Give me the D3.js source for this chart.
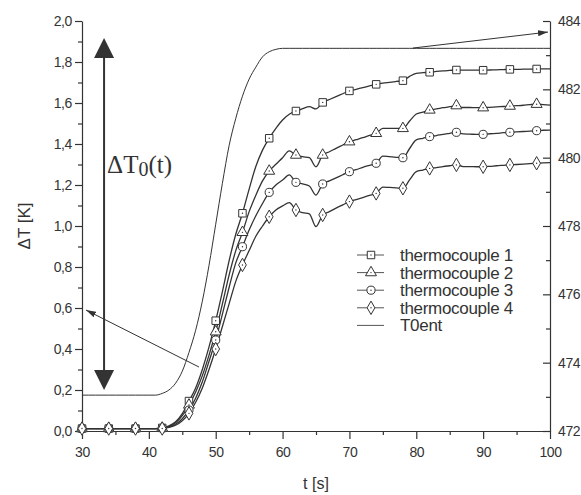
<!DOCTYPE html>
<html>
<head>
<meta charset="utf-8">
<script src="https://cdn.jsdelivr.net/npm/d3@7"></script>
<style>
  body { margin: 0; background: #fff; }
  svg text { font-family: "Liberation Sans", Arial, sans-serif; fill: #333; }
</style>
</head>
<body>
<svg id="chart" width="581" height="495"></svg>
<script>
// time in seconds, one sample per second
const time = [30, 31, 32, 33, 34, 35, 36, 37, 38, 39, 40, 41, 42, 43, 44, 45, 46, 47, 48, 49,
  50, 51, 52, 53, 54, 55, 56, 57, 58, 59, 60, 61, 62, 63, 64, 65, 66, 67, 68, 69,
  70, 71, 72, 73, 74, 75, 76, 77, 78, 79, 80, 81, 82, 83, 84, 85, 86, 87, 88, 89,
  90, 91, 92, 93, 94, 95, 96, 97, 98, 99, 100];

// delta T [K] of the four thermocouples
const tc1 = [0.012, 0.012, 0.012, 0.012, 0.012, 0.012, 0.012, 0.012, 0.012, 0.012, 0.012, 0.012,
  0.015, 0.025, 0.045, 0.085, 0.146, 0.21, 0.30, 0.41, 0.538, 0.68, 0.83, 0.96, 1.062, 1.18, 1.29, 1.37,
  1.428, 1.476, 1.517, 1.545, 1.561, 1.572, 1.582, 1.571, 1.603, 1.617, 1.631, 1.645, 1.659, 1.667,
  1.675, 1.683, 1.691, 1.697, 1.701, 1.705, 1.709, 1.73, 1.745, 1.748, 1.750, 1.754, 1.757, 1.759,
  1.761, 1.760, 1.760, 1.760, 1.760, 1.761, 1.762, 1.763, 1.764, 1.764, 1.765, 1.765, 1.766, 1.766, 1.766];
const tc2 = [0.012, 0.012, 0.012, 0.012, 0.012, 0.012, 0.012, 0.012, 0.012, 0.012, 0.012, 0.012,
  0.014, 0.022, 0.04, 0.075, 0.127, 0.19, 0.27, 0.37, 0.484, 0.62, 0.76, 0.88, 0.969, 1.07, 1.15, 1.22,
  1.268, 1.301, 1.333, 1.366, 1.346, 1.338, 1.333, 1.289, 1.346, 1.362, 1.379, 1.395, 1.411, 1.421,
  1.431, 1.442, 1.452, 1.476, 1.476, 1.476, 1.476, 1.512, 1.546, 1.556, 1.566, 1.571, 1.577, 1.582,
  1.587, 1.578, 1.578, 1.577, 1.577, 1.579, 1.581, 1.583, 1.585, 1.587, 1.589, 1.592, 1.594, 1.592, 1.590];
const tc3 = [0.012, 0.012, 0.012, 0.012, 0.012, 0.012, 0.012, 0.012, 0.012, 0.012, 0.012, 0.012,
  0.013, 0.02, 0.033, 0.06, 0.102, 0.16, 0.24, 0.34, 0.444, 0.57, 0.70, 0.82, 0.899, 0.98, 1.05, 1.11,
  1.164, 1.20, 1.224, 1.249, 1.213, 1.205, 1.195, 1.151, 1.205, 1.220, 1.235, 1.250, 1.265, 1.275,
  1.286, 1.296, 1.306, 1.341, 1.338, 1.335, 1.333, 1.378, 1.420, 1.428, 1.436, 1.441, 1.447, 1.452,
  1.457, 1.449, 1.448, 1.447, 1.447, 1.450, 1.452, 1.455, 1.457, 1.459, 1.461, 1.463, 1.465, 1.467, 1.468];
const tc4 = [0.012, 0.012, 0.012, 0.012, 0.012, 0.012, 0.012, 0.012, 0.012, 0.012, 0.012, 0.012,
  0.012, 0.018, 0.028, 0.05, 0.086, 0.14, 0.21, 0.30, 0.40, 0.51, 0.62, 0.73, 0.81, 0.88, 0.95, 1.00,
  1.045, 1.078, 1.098, 1.114, 1.078, 1.065, 1.059, 0.997, 1.054, 1.070, 1.087, 1.103, 1.119, 1.129,
  1.139, 1.149, 1.159, 1.190, 1.188, 1.186, 1.184, 1.225, 1.265, 1.273, 1.281, 1.285, 1.290, 1.294,
  1.298, 1.290, 1.290, 1.289, 1.289, 1.291, 1.294, 1.296, 1.298, 1.300, 1.302, 1.304, 1.306, 1.308, 1.309];

// inlet temperature T0ent, read on the right axis
const t0ent = [473.05, 473.05, 473.05, 473.05, 473.05, 473.05, 473.05, 473.05, 473.05, 473.05, 473.05, 473.05,
  473.1, 473.2, 473.4, 473.75, 474.3, 474.95, 475.8, 476.85, 478.05, 479.25, 480.35, 481.15, 481.8, 482.3,
  482.65, 482.95, 483.1, 483.17, 483.2, 483.2, 483.2, 483.2, 483.2, 483.2, 483.2, 483.2, 483.2, 483.2,
  483.2, 483.2, 483.2, 483.2, 483.2, 483.2, 483.2, 483.2, 483.2, 483.2, 483.2, 483.2, 483.2, 483.2,
  483.2, 483.2, 483.2, 483.2, 483.2, 483.2, 483.2, 483.2, 483.2, 483.2, 483.2, 483.2, 483.2, 483.2,
  483.2, 483.2, 483.2];

const seriesNames = ['thermocouple 1', 'thermocouple 2', 'thermocouple 3', 'thermocouple 4', 'T0ent'];

const xTicks = [30, 40, 50, 60, 70, 80, 90, 100];
const xMinor = [35, 45, 55, 65, 75, 85, 95];
const yTicks = [0, 0.2, 0.4, 0.6, 0.8, 1.0, 1.2, 1.4, 1.6, 1.8, 2.0];
const yMinor = [0.1, 0.3, 0.5, 0.7, 0.9, 1.1, 1.3, 1.5, 1.7, 1.9];
const yRTicks = [472, 474, 476, 478, 480, 482, 484];
const yRMinor = [473, 475, 477, 479, 481, 483];

const ink = '#333';
const svg = d3.select('#chart');

const x = d3.scaleLinear().domain([30, 100]).range([82, 550]);
const y = d3.scaleLinear().domain([0, 2]).range([431, 21]);
const yR = d3.scaleLinear().domain([472, 484]).range([431, 21]);

// axes
function styleAxis(g, fs) {
  g.selectAll('path, line').attr('stroke', ink).attr('stroke-width', 1.2);
  g.selectAll('text').style('font-size', fs + 'px').style('letter-spacing', '-0.4px').attr('fill', ink);
}

svg.append('g').attr('transform', 'translate(0,431)')
  .call(d3.axisBottom(x).tickValues(xTicks).tickSize(8).tickSizeOuter(0).tickPadding(8).tickFormat(d3.format('d')))
  .call(g => styleAxis(g, 14));
svg.append('g').attr('transform', 'translate(0,431)')
  .call(d3.axisBottom(x).tickValues(xMinor).tickSize(4).tickSizeOuter(0).tickFormat(''))
  .call(g => { g.select('.domain').remove(); styleAxis(g, 14); });

svg.append('g').attr('transform', 'translate(82,0)')
  .call(d3.axisLeft(y).tickValues(yTicks).tickSize(7).tickSizeOuter(0).tickPadding(3)
    .tickFormat(d => d.toFixed(1).replace('.', ',')))
  .call(g => styleAxis(g, 14));
svg.append('g').attr('transform', 'translate(82,0)')
  .call(d3.axisLeft(y).tickValues(yMinor).tickSize(4).tickSizeOuter(0).tickFormat(''))
  .call(g => { g.select('.domain').remove(); styleAxis(g, 14); });

svg.append('g').attr('transform', 'translate(550,0)')
  .call(d3.axisRight(yR).tickValues(yRTicks).tickSize(-7).tickSizeOuter(0).tickPadding(8).tickFormat(d3.format('d')))
  .call(g => styleAxis(g, 14));
svg.append('g').attr('transform', 'translate(550,0)')
  .call(d3.axisRight(yR).tickValues(yRMinor).tickSize(-4).tickSizeOuter(0).tickFormat(''))
  .call(g => { g.select('.domain').remove(); styleAxis(g, 14); });

// axis titles
svg.append('text').attr('x', (x(30) + x(100)) / 2).attr('y', 489)
  .attr('text-anchor', 'middle').style('font-size', '16px').text('t [s]');
svg.append('text').attr('transform', `translate(30,${(y(0) + y(2)) / 2}) rotate(-90)`)
  .attr('text-anchor', 'middle').style('font-size', '17px').text('ΔT [K]');

// curves
const lineL = d3.line().x((d, i) => x(time[i])).y(d => y(d)).curve(d3.curveMonotoneX);
const lineR = d3.line().x((d, i) => x(time[i])).y(d => yR(d)).curve(d3.curveMonotoneX);

svg.append('path').attr('d', lineR(t0ent))
  .attr('fill', 'none').attr('stroke', ink).attr('stroke-width', 1);

const tcs = [tc1, tc2, tc3, tc4];
const symbols = [
  d3.symbol().type(d3.symbolSquare).size(56),
  d3.symbol().type(d3.symbolTriangle).size(52),
  d3.symbol().type(d3.symbolCircle).size(52),
  d3.symbol().type(d3.symbolDiamond).size(52)
];

tcs.forEach(s => {
  svg.append('path').attr('d', lineL(s))
    .attr('fill', 'none').attr('stroke', ink).attr('stroke-width', 1.3);
});

tcs.forEach((s, k) => {
  const pts = s.map((v, i) => [time[i], v]).filter(p => (p[0] - 30) % 4 === 0);
  const g = svg.append('g');
  g.selectAll('path').data(pts).join('path')
    .attr('transform', p => `translate(${x(p[0])},${y(p[1])})`)
    .attr('d', symbols[k]()).attr('fill', '#fff').attr('stroke', ink).attr('stroke-width', 1);
  g.selectAll('circle').data(pts).join('circle')
    .attr('cx', p => x(p[0])).attr('cy', p => y(p[1])).attr('r', 0.7).attr('fill', ink);
});

// legend
const legend = svg.append('g');
seriesNames.forEach((name, i) => {
  const ly = 255 + i * 17.6;
  legend.append('line').attr('x1', 357).attr('x2', 384).attr('y1', ly).attr('y2', ly)
    .attr('stroke', '#555').attr('stroke-width', 1);
  if (i < 4) {
    legend.append('path').attr('transform', `translate(371,${ly})`)
      .attr('d', symbols[i]()).attr('fill', '#fff').attr('stroke', ink).attr('stroke-width', 1);
    legend.append('circle').attr('cx', 371).attr('cy', ly).attr('r', 0.7).attr('fill', ink);
  }
  legend.append('text').attr('x', 400).attr('y', ly + 6)
    .style('font-size', '17px').style('letter-spacing', '-0.3px').text(name);
});

// annotations
const defs = svg.append('defs');
defs.append('marker').attr('id', 'tip').attr('viewBox', '0 0 10 6').attr('refX', 10).attr('refY', 3)
  .attr('markerWidth', 10).attr('markerHeight', 6).attr('markerUnits', 'userSpaceOnUse').attr('orient', 'auto')
  .append('path').attr('d', 'M0,0L10,3L0,6Z').attr('fill', ink);

// arrow pointing to the left axis
svg.append('line').attr('x1', x(47.5)).attr('y1', y(0.312)).attr('x2', x(30.6)).attr('y2', y(0.59))
  .attr('stroke', ink).attr('stroke-width', 1).attr('marker-end', 'url(#tip)');
// arrow pointing to the right axis
svg.append('line').attr('x1', x(79.5)).attr('y1', y(1.868)).attr('x2', x(99.7)).attr('y2', y(1.946))
  .attr('stroke', ink).attr('stroke-width', 1).attr('marker-end', 'url(#tip)');

// double headed arrow for delta T0(t)
const ax = x(33.3), aTop = y(1.917), aBot = y(0.2);
svg.append('line').attr('x1', ax).attr('x2', ax).attr('y1', aTop + 18).attr('y2', aBot - 18)
  .attr('stroke', ink).attr('stroke-width', 2);
svg.append('path').attr('d', `M${ax},${aTop}L${ax + 10},${aTop + 20}L${ax - 10},${aTop + 20}Z`).attr('fill', ink);
svg.append('path').attr('d', `M${ax},${aBot}L${ax + 10},${aBot - 20}L${ax - 10},${aBot - 20}Z`).attr('fill', ink);

const lab = svg.append('text').attr('x', x(33.75)).attr('y', y(1.259))
  .style('font-family', '"Liberation Serif", "Times New Roman", serif').style('font-size', '25px');
lab.append('tspan').text('ΔT');
lab.append('tspan').attr('dy', 3).style('font-size', '20px').text('0');
lab.append('tspan').attr('dy', -3).text('(t)');
</script>
</body>
</html>
